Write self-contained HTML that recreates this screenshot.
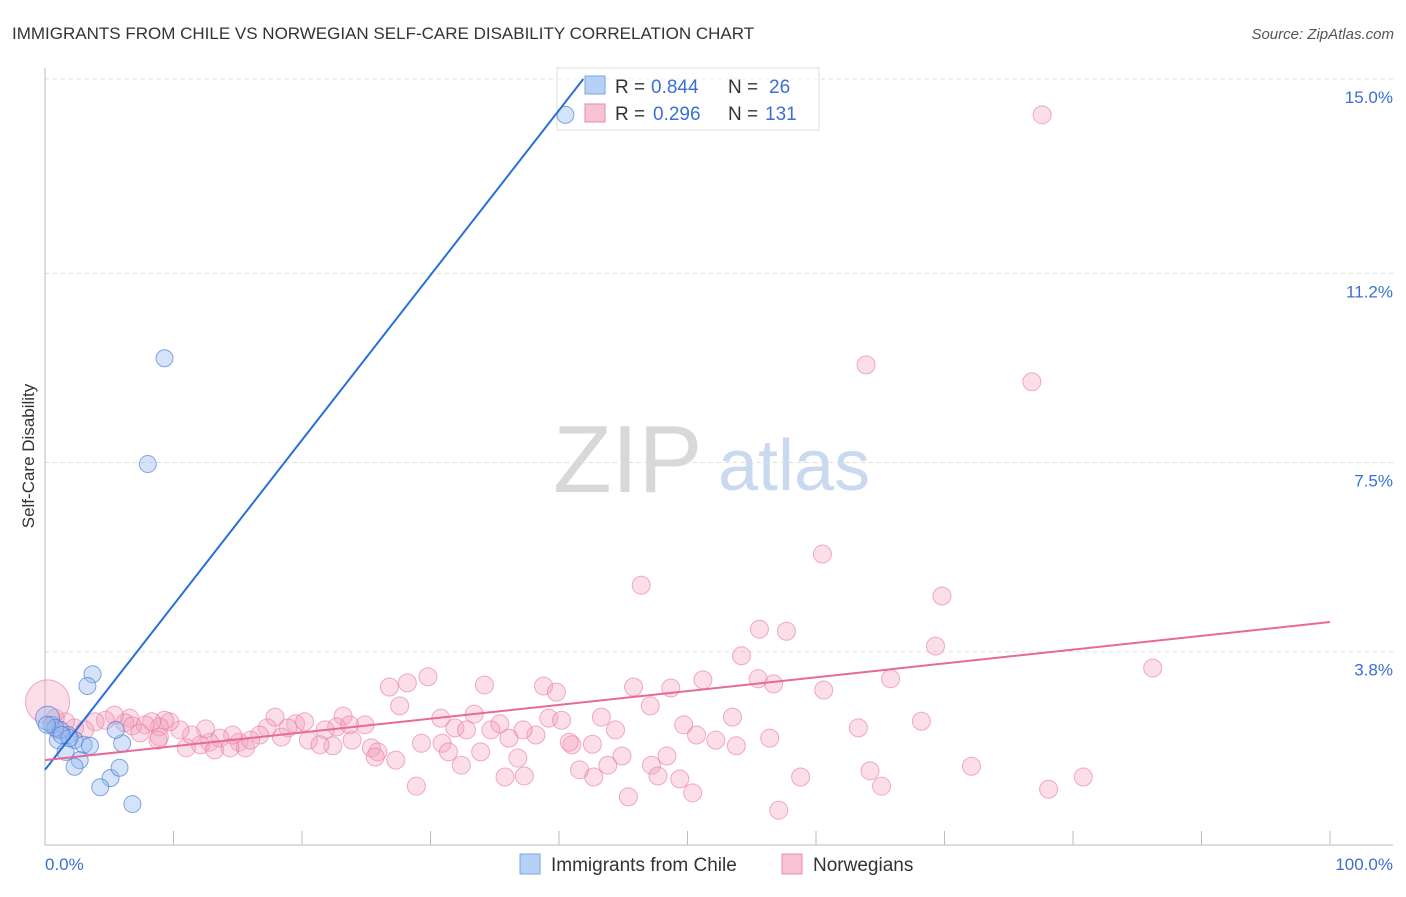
<!DOCTYPE html>
<html><head><meta charset="utf-8"><style>
body{margin:0;background:#fff;font-family:"Liberation Sans",sans-serif}
svg text{font-family:"Liberation Sans",sans-serif}
</style></head><body>
<svg id="chart" width="1406" height="892" xmlns="http://www.w3.org/2000/svg">
<text x="12" y="39" font-size="17" fill="#333">IMMIGRANTS FROM CHILE VS NORWEGIAN SELF-CARE DISABILITY CORRELATION CHART</text>
<text x="1394" y="39" font-size="15" fill="#555" text-anchor="end" font-style="italic">Source: ZipAtlas.com</text>
<g>
<text x="553" y="492" font-size="96" fill="#d8d8d8" font-family="Liberation Serif,serif">ZIP</text>
<text x="718" y="490" font-size="72" fill="#c9daf0">atlas</text>
</g>
<g id="grid"></g>
<g id="axes"></g>
<g>
<rect x="557" y="68" width="262" height="62" fill="rgba(255,255,255,0.6)" stroke="#ddd"/>
<g>
<rect x="585" y="76" width="20" height="18" fill="#b7d0f5" stroke="#7ba3e0"/>
<text x="615" y="93" font-size="19" fill="#333">R =</text>
<text x="651" y="93" font-size="19" fill="#3b6fd6">0.844</text>
<text x="728" y="93" font-size="19" fill="#333">N =</text>
<text x="769" y="93" font-size="19" fill="#3b6fd6">26</text></g>
<g>
<rect x="585" y="104" width="20" height="18" fill="#f7c3d3" stroke="#e88aa8"/>
<text x="615" y="120" font-size="19" fill="#333">R =</text>
<text x="653" y="120" font-size="19" fill="#3b6fd6">0.296</text>
<text x="728" y="120" font-size="19" fill="#333">N =</text>
<text x="765" y="120" font-size="19" fill="#3b6fd6">131</text></g>
</g>
<g id="marks"></g>
<text transform="translate(34,456) rotate(-90)" font-size="17" fill="#333" text-anchor="middle">Self-Care Disability</text>
<g>
<g><rect x="520" y="854" width="20" height="20" fill="#b7d0f5" stroke="#7ba3e0"/><text x="551" y="871" font-size="19" fill="#333">Immigrants from Chile</text></g>
<g><rect x="782" y="854" width="20" height="20" fill="#f7c3d3" stroke="#e88aa8"/><text x="813" y="871" font-size="19" fill="#333">Norwegians</text></g>
</g>
</svg>
<script>
const yTicks=[3.8,7.5,11.2,15.0];
const yTickLabels=["3.8%","7.5%","11.2%","15.0%"];
const xTickCount=10;
const xLabels=["0.0%","100.0%"];
const chileX=[9.3,8.0,3.7,3.3,0.5,1.0,1.8,2.3,3.0,1.6,2.7,2.3,6.0,5.5,5.1,5.8,4.3,6.8,40.5,1.2,1.9,0.2,0.8,3.5,1.3,0.15];
const chileY=[9.54,7.47,3.36,3.13,2.37,2.07,2.17,2.07,1.98,1.84,1.68,1.55,2.01,2.27,1.33,1.53,1.15,0.82,14.3,2.27,2.11,2.5,2.31,1.96,2.17,2.37];
const normX=[77.6,63.9,76.8,60.5,46.4,69.8,55.6,57.7,69.3,54.2,86.2,65.8,55.5,56.7,51.2,60.6,45.8,48.7,38.8,39.8,34.2,29.8,28.2,26.8,27.6,47.1,68.2,53.5,63.3,49.7,50.7,52.2,53.8,56.4,43.3,44.4,39.2,40.2,38.2,37.2,35.4,36.1,33.4,30.8,31.9,32.8,34.7,30.9,29.3,31.4,32.4,33.9,36.8,41.0,42.6,40.8,44.9,43.8,41.6,42.7,45.4,47.2,47.7,48.4,49.4,50.4,57.1,58.8,64.2,65.1,72.1,78.1,80.8,28.9,35.8,37.3,23.2,22.7,24.9,23.9,22.4,20.5,19.5,18.9,17.9,17.3,16.7,15.1,14.6,15.6,13.6,12.8,12.1,11.0,13.2,14.4,12.5,11.4,10.5,9.7,9.3,8.9,8.3,7.8,6.6,6.2,5.4,4.7,3.9,3.1,2.3,1.6,0.8,0.2,1.0,8.9,25.4,25.9,27.3,25.7,21.8,21.4,18.4,16.0,23.7,20.2,6.8,8.8,7.4];
const normY=[14.3,9.41,9.08,5.71,5.10,4.89,4.24,4.20,3.91,3.72,3.48,3.27,3.27,3.17,3.25,3.05,3.11,3.09,3.13,3.01,3.15,3.31,3.19,3.11,2.74,2.74,2.44,2.52,2.31,2.37,2.17,2.07,1.96,2.11,2.52,2.27,2.50,2.46,2.17,2.27,2.39,2.11,2.58,2.50,2.31,2.27,2.27,2.01,2.01,1.84,1.58,1.84,1.72,1.98,1.99,2.03,1.76,1.58,1.49,1.35,0.96,1.58,1.37,1.76,1.31,1.04,0.70,1.35,1.47,1.17,1.56,1.11,1.35,1.17,1.35,1.37,2.54,2.33,2.37,2.07,1.96,2.07,2.39,2.31,2.52,2.31,2.17,2.03,2.17,1.92,2.11,2.03,1.98,1.92,1.88,1.92,2.29,2.17,2.27,2.43,2.46,2.33,2.43,2.37,2.50,2.41,2.56,2.46,2.43,2.27,2.31,2.43,2.50,2.82,2.27,2.13,1.92,1.84,1.68,1.74,2.27,1.98,2.13,2.07,2.37,2.43,2.35,2.07,2.21];
const chileTrend=[1.49,0.3225];
const normTrend=[1.68,4.38];
const X=v=>45+v*12.85, Y=v=>846-v*51.13;
const NS="http://www.w3.org/2000/svg";
function mk(tag,attrs,parent){const e=document.createElementNS(NS,tag);for(const k in attrs)e.setAttribute(k,attrs[k]);parent.appendChild(e);return e;}
const grid=document.getElementById('grid'),axes=document.getElementById('axes'),marks=document.getElementById('marks');
yTicks.forEach((t,i)=>{
 const l=mk('line',{x1:45,x2:1393,y1:Y(t),y2:Y(t),stroke:'#ddd','stroke-dasharray':'4,4'},grid);
 
 
 const tx=mk('text',{x:1393,y:Y(t)+24,'font-size':17,fill:'#3b6fd6','text-anchor':'end'},grid);
 tx.textContent=yTickLabels[i];
 
 
});
const ax=mk('line',{x1:45,x2:45,y1:68,y2:845,stroke:'#bbb'},axes);


const bx=mk('line',{x1:45,x2:1393,y1:845,y2:845,stroke:'#bbb'},axes);


for(let i=0;i<=xTickCount;i++){
 const t=mk('line',{x1:X(i*10),x2:X(i*10),y1:831,y2:845,stroke:'#bbb'},axes);
 
 
}
const xl0=mk('text',{x:45,y:870,'font-size':17,fill:'#3b6fd6','text-anchor':'start'},axes);xl0.textContent=xLabels[0];


const xl1=mk('text',{x:1393,y:870,'font-size':17,fill:'#3b6fd6','text-anchor':'end'},axes);xl1.textContent=xLabels[1];


normX.forEach((v,i)=>{
 const c=mk('circle',{cx:X(v),cy:Y(normY[i]),r:(v<0.5&&normY[i]>2.7)?22:9,fill:'rgba(244,160,188,0.35)',stroke:'rgba(232,120,158,0.6)','stroke-width':1},marks);
 
 
});
chileX.forEach((v,i)=>{
 const c=mk('circle',{cx:X(v),cy:Y(chileY[i]),r:(v<0.3&&chileY[i]>2.45)?12:8.5,fill:'rgba(150,185,240,0.4)',stroke:'rgba(70,120,210,0.65)','stroke-width':1},marks);
 
 
});
const xEnd=(15-chileTrend[0])/chileTrend[1];
const bl=mk('line',{x1:X(0),y1:Y(chileTrend[0]),x2:X(xEnd),y2:Y(15),stroke:'#2a6fd8','stroke-width':2},marks);


const pl=mk('line',{x1:X(0),y1:Y(normTrend[0]),x2:X(100),y2:Y(normTrend[1]),stroke:'#e8689a','stroke-width':2},marks);


</script>
</body></html>
